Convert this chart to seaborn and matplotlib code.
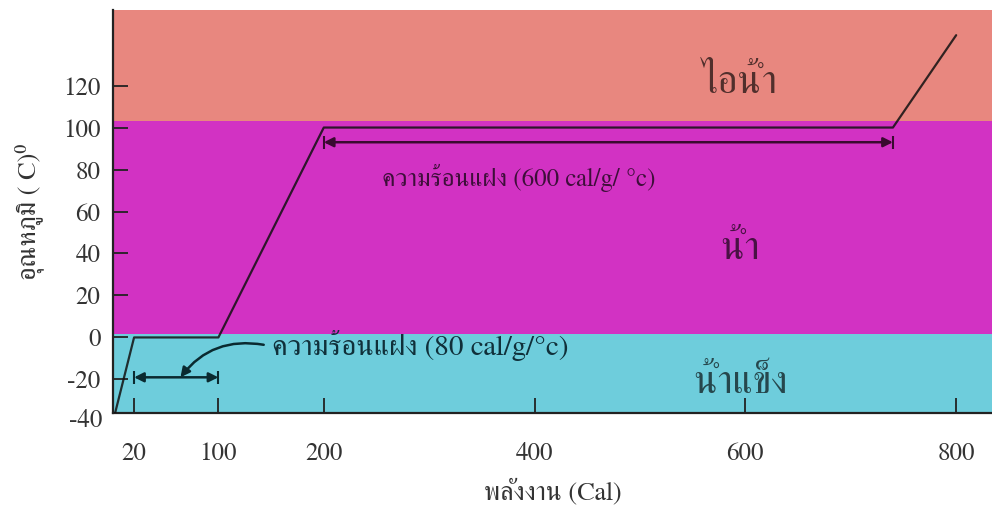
import matplotlib
matplotlib.use("Agg")
import matplotlib.pyplot as plt
import seaborn as sns

# heating curve of 1 g of water
energy = [0, 20, 100, 200, 740, 800]
temperature = [-40, 0, 0, 100, 100, 144]

phase_names = ["น้ำแข็ง", "น้ำ", "ไอน้ำ"]
phase_low = [-40, 1.5, 103]
phase_high = [1.5, 103, 160]
phase_colors = ["#6ecddc", "#d232c3", "#e8877f"]

x_ticks = [20, 100, 200, 400, 600, 800]
y_ticks = [-20, 0, 20, 40, 60, 80, 100, 120]

sns.set_theme(style="ticks")
plt.rcParams["font.family"] = ["FreeSerif", "Liberation Serif", "DejaVu Serif", "DejaVu Sans"]
plt.rcParams["axes.unicode_minus"] = False

fig = plt.figure(figsize=(9.92, 5.08), dpi=100)
ax = fig.add_axes([113 / 992, 95 / 508, 1 - 113 / 992, 403 / 508])

for lo, hi, c in zip(phase_low, phase_high, phase_colors):
    ax.axhspan(lo, hi, color=c, lw=0, zorder=0)

sns.lineplot(x=energy, y=temperature, ax=ax, color="#111111", lw=1.6, alpha=0.85, zorder=3)

ax.set_xlim(0, 834)
ax.set_ylim(-36, 156)
ax.set_xticks(x_ticks)
ax.set_yticks(y_ticks)
ax.tick_params(direction="in", length=11, width=1.3, color="#222222",
               labelsize=18, labelcolor="#333333")
ax.tick_params(axis="x", pad=21)
ax.tick_params(axis="y", pad=9)
ax.text(-0.012, -40, "-40", transform=ax.get_yaxis_transform(), ha="right",
        va="center", fontsize=18, color="#333333", clip_on=False)

for side in ["top", "right"]:
    ax.spines[side].set_visible(False)
for side in ["left", "bottom"]:
    ax.spines[side].set_color("#222222")
    ax.spines[side].set_linewidth(1.6)

ax.set_xlabel("พลังงาน (Cal)", fontsize=19, color="#333333", labelpad=9)
ax.set_ylabel("อุณหภูมิ ( C)⁰", fontsize=19, color="#333333", labelpad=14)

# phase labels
label_y = [-22, 42, 121]
for name, yv in zip(phase_names, label_y):
    ax.text(595, yv, name, ha="center", va="center", fontsize=28,
            color="black", alpha=0.65, zorder=4)

# latent heat arrows
ax.annotate("", xy=(200, 93), xytext=(740, 93),
            arrowprops=dict(arrowstyle="<|-|>", color="#3a0a30", lw=1.8,
                            shrinkA=0, shrinkB=0, mutation_scale=14), zorder=4)
ax.vlines([200, 740], 90, 96, color="#3a0a30", lw=1.5, zorder=4)
ax.text(385, 76, "ความร้อนแฝง (600 cal/g/ °c)", ha="center", va="center",
        fontsize=18, color="black", alpha=0.7, zorder=4)

ax.annotate("", xy=(20, -19), xytext=(100, -19),
            arrowprops=dict(arrowstyle="<|-|>", color="#0a2a30", lw=1.8,
                            shrinkA=0, shrinkB=0, mutation_scale=14), zorder=4)
ax.vlines([20, 100], -22, -16, color="#0a2a30", lw=1.5, zorder=4)
ax.text(151, -4, "ความร้อนแฝง (80 cal/g/°c)", ha="left", va="center",
        fontsize=21, color="#10303a", zorder=4)
ax.annotate("", xy=(64, -19), xytext=(143, -3.5),
            arrowprops=dict(arrowstyle="-|>", color="#0a2a30", lw=1.8,
                            connectionstyle="arc3,rad=0.3", shrinkA=0, shrinkB=0,
                            mutation_scale=14), zorder=4)

fig.savefig("out.png", dpi=100)
